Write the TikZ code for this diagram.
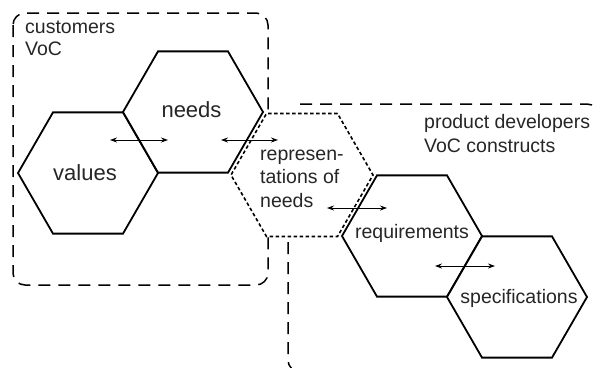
\documentclass[tikz,border=0pt]{standalone}
\usepackage{fontspec}
\setmainfont{Liberation Sans}
\usetikzlibrary{shapes.geometric,arrows.meta}
\begin{document}
\begin{tikzpicture}[x=1pt,y=-1pt,
  hexa/.style={regular polygon, regular polygon sides=6, minimum size=140pt, draw=black, line width=1.8pt, fill=white, inner sep=0pt, outer sep=0pt},
  dothexa/.style={hexa, minimum size=142pt, dash pattern=on 3.5pt off 2.5pt, line width=1.6pt},
  grpbox/.style={draw=black, line width=1.5pt, rounded corners=12pt, dash pattern=on 12pt off 8pt},
  biarrow/.style={{Stealth[length=7pt,width=5pt]}-{Stealth[length=7pt,width=5pt]}, line width=0.9pt},
  small/.style={inner sep=0pt, text=black!85, font=\fontsize{19.5}{22.5}\selectfont, anchor=base west},
  big/.style={inner sep=0pt, text=black!85, font=\fontsize{22}{25}\selectfont, anchor=base}]
\useasboundingbox (0,0) rectangle (596,367);
\clip (0,0) rectangle (596,367);
% group boxes
\coordinate (pbstart) at (300,104);
\coordinate (pbend) at (288,116);
\draw[grpbox] (pbstart) -- (599,104) -- (599,372) -- (288,372) -- (pbend);
\draw[grpbox] (13,13) rectangle (268,285);
% hexagons
\node[hexa] (values) at (88,173) {};
\node[hexa] (needs) at (193,112) {};
\node[dothexa] (repr) at (302,175) {};
\node[hexa] (req) at (412,236) {};
\node[hexa] (spec) at (517,297) {};
% arrow end points
\coordinate (a1l) at (110,140); \coordinate (a1r) at (168,140);
\coordinate (a2l) at (221,140); \coordinate (a2r) at (278,140);
\coordinate (a3l) at (327,208); \coordinate (a3r) at (387,208);
\coordinate (a4l) at (435,266); \coordinate (a4r) at (495,266);
\draw[biarrow] (a1l) -- (a1r);
\draw[biarrow] (a2l) -- (a2r);
\draw[biarrow] (a3l) -- (a3r);
\draw[biarrow] (a4l) -- (a4r);
% texts
\node[small] (cust1) at (25,33) {customers};
\node[small] (cust2) at (25,55) {VoC};
\node[small] (prod1) at (424,128) {product developers};
\node[small] (prod2) at (424,152) {VoC constructs};
\node[big] (needstxt) at (191.5,117) {needs};
\node[big] (valuestxt) at (85,180) {values};
\node[small] (repr1) at (260,160) {represen-};
\node[small] (repr2) at (260,183) {tations of};
\node[small] (repr3) at (260,207) {needs};
\node[small, anchor=base] (reqtxt) at (412,238) {requirements};
\node[small, anchor=base] (spectxt) at (519,303) {specifications};
\end{tikzpicture}
\end{document}
